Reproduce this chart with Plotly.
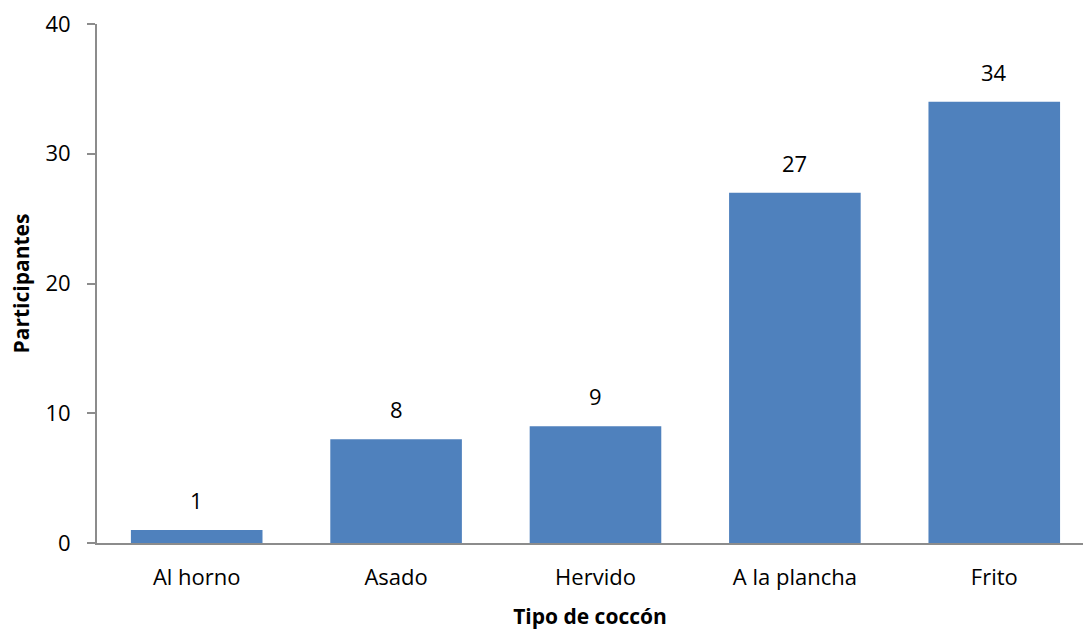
import plotly.graph_objects as go

categorias = ["Al horno", "Asado", "Hervido", "A la plancha", "Frito"]
participantes = [1, 8, 9, 27, 34]
ticks_y = [0, 10, 20, 30, 40]

FONT = "Open Sans, Lato, sans-serif"
AZUL = "#4F81BD"
GRIS = "#8C8C8C"

fig = go.Figure(
    go.Bar(
        x=categorias,
        y=participantes,
        marker=dict(color=AZUL, line=dict(width=0)),
        width=0.66,
    )
)

for c, v in zip(categorias, participantes):
    fig.add_annotation(
        x=c, y=v, text=str(v), showarrow=False,
        yanchor="bottom", yshift=13,
        font=dict(family=FONT, size=22, color="#000000"),
    )

fig.update_layout(
    width=1083, height=630,
    margin=dict(l=97, r=0, t=24, b=87),
    plot_bgcolor="white", paper_bgcolor="white",
    showlegend=False,
    font=dict(family=FONT, size=22, color="#000000"),
    xaxis=dict(
        range=[-0.5, 4.445],
        showline=True, linecolor=GRIS, linewidth=2,
        ticks="", showgrid=False,
        ticklabelstandoff=14,
        title=dict(text="<b>Tipo de coccón</b>", font=dict(size=21), standoff=20),
        tickfont=dict(size=22),
    ),
    yaxis=dict(
        range=[0, 40], tickvals=ticks_y,
        showline=True, linecolor=GRIS, linewidth=2,
        ticks="outside", ticklen=8, tickcolor=GRIS, tickwidth=2,
        ticklabelstandoff=12,
        showgrid=False, zeroline=False,
        title=dict(text="<b>Participantes</b>", font=dict(size=21), standoff=10),
        tickfont=dict(size=22),
    ),
)

fig.write_html("out.html")
